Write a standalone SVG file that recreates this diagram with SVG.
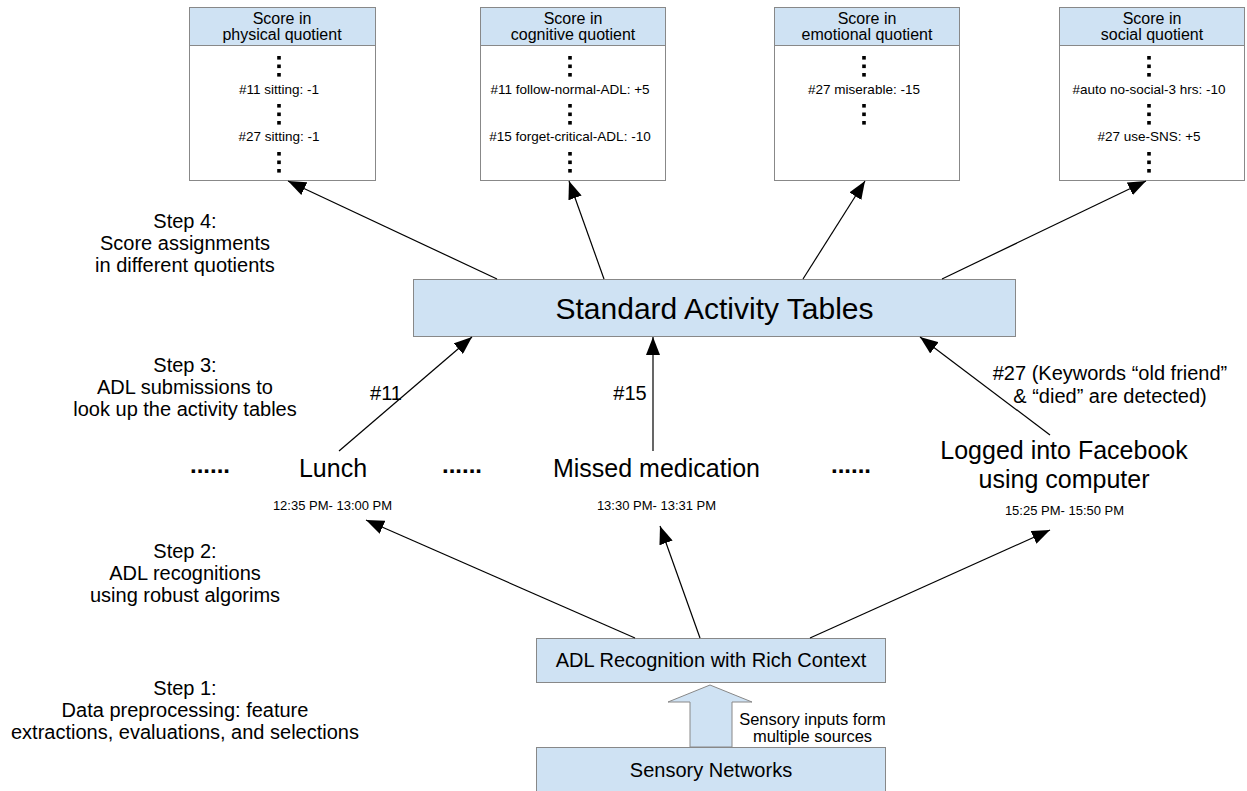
<svg xmlns="http://www.w3.org/2000/svg" width="1247" height="791" viewBox="0 0 1247 791">
<style>
  text { font-family: "Liberation Sans", Arial, sans-serif; fill: #000; }
  .hdr { fill: #cfe2f3; stroke: #888; stroke-width: 1; }
  .body { fill: #fff; stroke: #888; stroke-width: 1; }
  .blue { fill: #cfe2f3; stroke: #888; stroke-width: 1; }
  .h16 { font-size: 16px; text-anchor: middle; }
  .b13 { font-size: 13.5px; text-anchor: middle; }
  .step { font-size: 20px; text-anchor: middle; }
  .item { font-size: 25px; text-anchor: middle; }
  .dots { font-size: 24px; font-weight: bold; text-anchor: middle; }
  .time { font-size: 13px; text-anchor: middle; }
  .lbl { font-size: 20px; text-anchor: middle; }
  .dot { fill: #000; }
  .conn { stroke: #000; stroke-width: 1.2; fill: none; marker-end: url(#ah); }
</style>
<defs>
  <marker id="ah" markerUnits="userSpaceOnUse" markerWidth="19" markerHeight="14" refX="18" refY="7" orient="auto">
    <path d="M0,0 L18,7 L0,14 Z" fill="#000"/>
  </marker>
  <g id="d3">
    <rect x="-1.8" y="0" width="3.6" height="3.6"/>
    <rect x="-1.8" y="8.5" width="3.6" height="3.6"/>
    <rect x="-1.8" y="17" width="3.6" height="3.6"/>
  </g>
</defs>
<rect width="1247" height="791" fill="#fff"/>

<g id="physical">
  <rect class="body" x="189.5" y="7.5" width="186" height="173"/>
  <rect class="hdr" x="189.5" y="7.5" width="186" height="38"/>
  <text class="h16" x="282" y="24">Score in</text>
  <text class="h16" x="282" y="40">physical quotient</text>
  <use href="#d3" x="279" y="56" class="dot"/>
  <text class="b13" x="279" y="94">#11 sitting: -1</text>
  <use href="#d3" x="279" y="104" class="dot"/>
  <text class="b13" x="279" y="141">#27 sitting: -1</text>
  <use href="#d3" x="279" y="152" class="dot"/>
</g>

<g id="cognitive">
  <rect class="body" x="480.5" y="7.5" width="185" height="173"/>
  <rect class="hdr" x="480.5" y="7.5" width="185" height="38"/>
  <text class="h16" x="573" y="24">Score in</text>
  <text class="h16" x="573" y="40">cognitive quotient</text>
  <use href="#d3" x="570" y="56" class="dot"/>
  <text class="b13" x="570" y="94">#11 follow-normal-ADL: +5</text>
  <use href="#d3" x="570" y="104" class="dot"/>
  <text class="b13" x="570" y="141">#15 forget-critical-ADL: -10</text>
  <use href="#d3" x="570" y="152" class="dot"/>
</g>

<g id="emotional">
  <rect class="body" x="774.5" y="7.5" width="185" height="173"/>
  <rect class="hdr" x="774.5" y="7.5" width="185" height="38"/>
  <text class="h16" x="867" y="24">Score in</text>
  <text class="h16" x="867" y="40">emotional quotient</text>
  <use href="#d3" x="864" y="56" class="dot"/>
  <text class="b13" x="864" y="94">#27 miserable: -15</text>
  <use href="#d3" x="864" y="104" class="dot"/>
</g>

<g id="social">
  <rect class="body" x="1059.5" y="7.5" width="185" height="173"/>
  <rect class="hdr" x="1059.5" y="7.5" width="185" height="38"/>
  <text class="h16" x="1152" y="24">Score in</text>
  <text class="h16" x="1152" y="40">social quotient</text>
  <use href="#d3" x="1149" y="56" class="dot"/>
  <text class="b13" x="1149" y="94">#auto no-social-3 hrs: -10</text>
  <use href="#d3" x="1149" y="104" class="dot"/>
  <text class="b13" x="1149" y="141">#27 use-SNS: +5</text>
  <use href="#d3" x="1149" y="152" class="dot"/>
</g>

<g id="steps">
  <text class="step" x="185" y="228">Step 4:</text>
  <text class="step" x="185" y="250">Score assignments</text>
  <text class="step" x="185" y="272">in different quotients</text>
  <text class="step" x="185" y="372">Step 3:</text>
  <text class="step" x="185" y="394">ADL submissions to</text>
  <text class="step" x="185" y="416">look up the activity tables</text>
  <text class="step" x="185" y="558">Step 2:</text>
  <text class="step" x="185" y="580">ADL recognitions</text>
  <text class="step" x="185" y="602">using robust algorims</text>
  <text class="step" x="185" y="695">Step 1:</text>
  <text class="step" x="185" y="717">Data preprocessing: feature</text>
  <text class="step" x="185" y="739">extractions, evaluations, and selections</text>
</g>

<g id="sat">
  <rect class="blue" x="413.5" y="279.5" width="602" height="57"/>
  <text x="714.5" y="318.5" font-size="30" text-anchor="middle">Standard Activity Tables</text>
</g>

<g id="lunch">
  <text class="item" x="333" y="477">Lunch</text>
  <text class="time" x="332.5" y="510">12:35 PM- 13:00 PM</text>
</g>
<g id="missed">
  <text class="item" x="656.5" y="477">Missed medication</text>
  <text class="time" x="656.5" y="510">13:30 PM- 13:31 PM</text>
</g>
<g id="facebook">
  <text class="item" x="1064" y="459">Logged into Facebook</text>
  <text class="item" x="1064" y="488">using computer</text>
  <text class="time" x="1064.5" y="515">15:25 PM- 15:50 PM</text>
</g>
<g id="ellipses">
  <text class="dots" x="210" y="473">......</text>
  <text class="dots" x="462" y="473">......</text>
  <text class="dots" x="851" y="473">......</text>
</g>

<g id="adl">
  <rect class="blue" x="536.5" y="638.5" width="349" height="44"/>
  <text x="711" y="667" font-size="20" text-anchor="middle">ADL Recognition with Rich Context</text>
</g>

<g id="sensory">
  <rect class="blue" x="536.5" y="747.5" width="349" height="50"/>
  <text x="711" y="777" font-size="20" text-anchor="middle">Sensory Networks</text>
</g>

<g id="connectors">
  <line class="conn" x1="497" y1="279" x2="288" y2="181"/>
  <line class="conn" x1="604" y1="279" x2="569" y2="181"/>
  <line class="conn" x1="803" y1="279" x2="865" y2="181"/>
  <line class="conn" x1="942" y1="279" x2="1146" y2="181"/>
  <line class="conn" x1="339" y1="451" x2="472" y2="337"/>
  <line class="conn" x1="653" y1="451" x2="653" y2="337"/>
  <line class="conn" x1="1050" y1="435" x2="920" y2="337"/>
  <line class="conn" x1="635" y1="638" x2="366" y2="520"/>
  <line class="conn" x1="700" y1="638" x2="660" y2="526"/>
  <line class="conn" x1="810" y1="638" x2="1050" y2="530"/>
  <polygon class="blue" points="690,747 690,702 668,702 710,685 752,702 732,702 732,747"/>
  <text class="lbl" x="386" y="400">#11</text>
  <text class="lbl" x="630" y="400">#15</text>
  <text class="lbl" x="1110" y="380">#27 (Keywords “old friend”</text>
  <text class="lbl" x="1110" y="403">&amp; “died” are detected)</text>
  <text x="812.5" y="725" font-size="16.5" text-anchor="middle">Sensory inputs form</text>
  <text x="812.5" y="742" font-size="16.5" text-anchor="middle">multiple sources</text>
</g>
</svg>
